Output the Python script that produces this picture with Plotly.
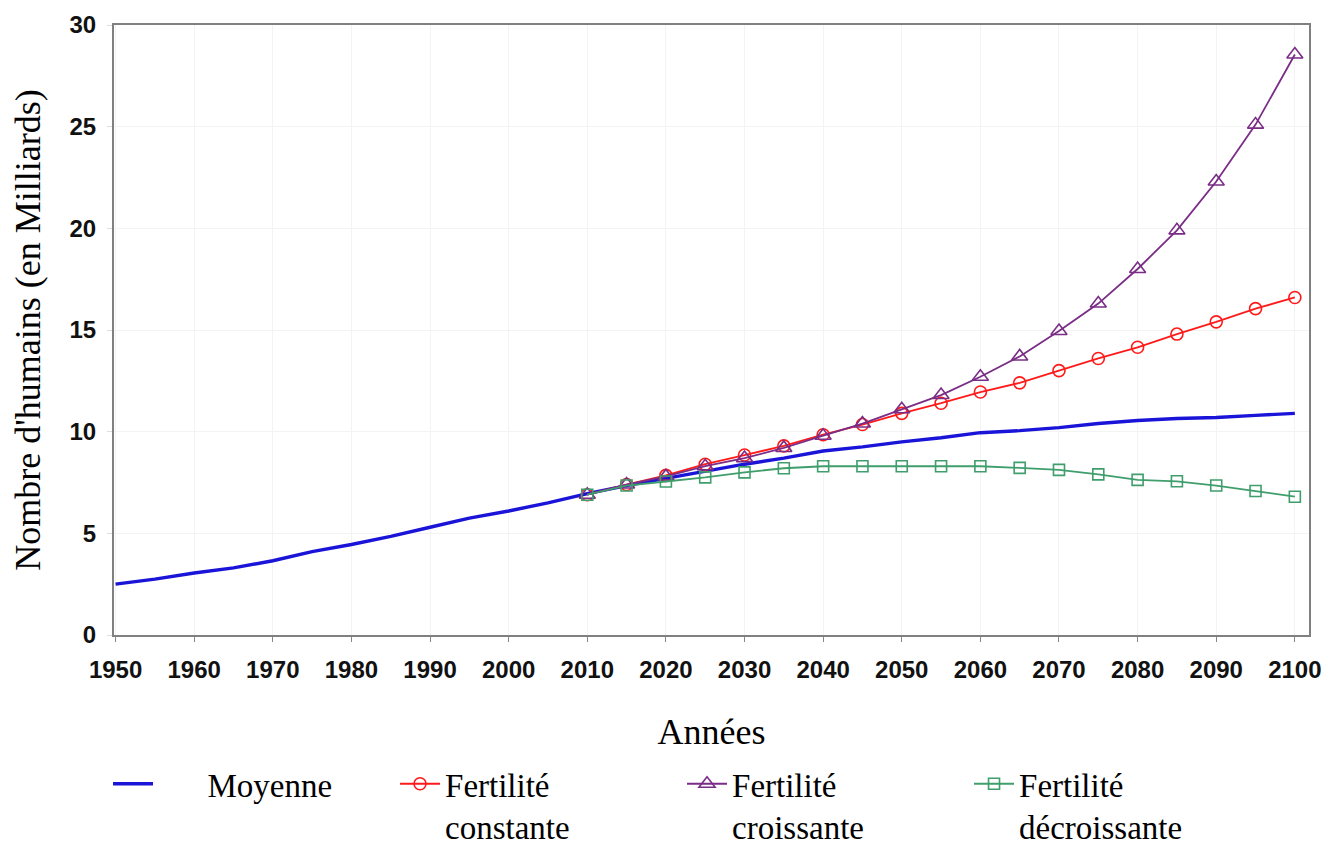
import plotly.graph_objects as go

# ---- data ----
years_hist = [1950, 1955, 1960, 1965, 1970, 1975, 1980, 1985, 1990, 1995, 2000, 2005,
              2010, 2015, 2020, 2025, 2030, 2035, 2040, 2045, 2050, 2055, 2060, 2065,
              2070, 2075, 2080, 2085, 2090, 2095, 2100]
moyenne = [2.5, 2.75, 3.05, 3.3, 3.65, 4.1, 4.45, 4.85, 5.3, 5.75, 6.1, 6.5,
           6.95, 7.35, 7.7, 8.05, 8.4, 8.7, 9.05, 9.25, 9.5, 9.7, 9.95, 10.05,
           10.2, 10.4, 10.55, 10.65, 10.7, 10.8, 10.9]

years_proj = [2010, 2015, 2020, 2025, 2030, 2035, 2040, 2045, 2050, 2055,
              2060, 2065, 2070, 2075, 2080, 2085, 2090, 2095, 2100]
constante = [6.9, 7.4, 7.85, 8.4, 8.85, 9.3, 9.85, 10.35, 10.9, 11.4,
             11.95, 12.4, 13.0, 13.6, 14.15, 14.8, 15.4, 16.05, 16.6]
croissante = [6.9, 7.4, 7.8, 8.3, 8.7, 9.2, 9.8, 10.4, 11.1, 11.8,
              12.7, 13.7, 14.95, 16.3, 18.0, 19.9, 22.3, 25.1, 28.55]
decroissante = [6.9, 7.35, 7.55, 7.75, 8.0, 8.2, 8.3, 8.3, 8.3, 8.3,
                8.3, 8.22, 8.12, 7.9, 7.63, 7.56, 7.35, 7.08, 6.8]

y_ticks = [0, 5, 10, 15, 20, 25, 30]
x_ticks = list(range(1950, 2101, 10))

serif = "Liberation Serif, Times New Roman, serif"
sans = "Liberation Sans, Arial, sans-serif"

fig = go.Figure()
fig.add_trace(go.Scatter(
    x=years_hist, y=moyenne, mode="lines",
    name="\u00a0\u00a0\u00a0\u00a0\u00a0\u00a0Moyenne",
    line=dict(color="#1a14d8", width=3.4)))
fig.add_trace(go.Scatter(
    x=years_proj, y=constante, mode="lines+markers",
    name="Fertilité<br>constante",
    line=dict(color="#ff1a1a", width=1.8),
    marker=dict(symbol="circle-open", size=12, color="#ff1a1a", line=dict(width=1.6))))
fig.add_trace(go.Scatter(
    x=years_proj, y=croissante, mode="lines+markers",
    name="Fertilité<br>croissante",
    line=dict(color="#7a2d86", width=1.8),
    marker=dict(symbol="triangle-up-open", size=14, color="#7a2d86", line=dict(width=1.6))))
fig.add_trace(go.Scatter(
    x=years_proj, y=decroissante, mode="lines+markers",
    name="Fertilité<br>décroissante",
    line=dict(color="#3f9e6c", width=1.8),
    marker=dict(symbol="square-open", size=11, color="#3f9e6c", line=dict(width=1.6))))

fig.update_layout(
    width=1330, height=844,
    margin=dict(l=106, r=29, t=17, b=217, autoexpand=False),
    paper_bgcolor="white", plot_bgcolor="white",
    showlegend=True,
    legend=dict(orientation="h", x=-0.005, xanchor="left", y=-0.198, yanchor="top",
                font=dict(family=serif, size=33, color="black"),
                entrywidth=232, entrywidthmode="pixels", valign="top",
                itemwidth=40, tracegroupgap=0),
    xaxis=dict(range=[1949.8, 2101.8], tickvals=x_ticks, automargin=False,
               tickfont=dict(family=sans, size=24, color="#111", weight="bold"),
               ticks="outside", ticklen=5, tickcolor="#888", ticklabelstandoff=7,
               showline=True, linecolor="#808080", linewidth=2, mirror=True,
               showgrid=True, gridcolor="#f3f3f3", zeroline=False,
               title=dict(text="Années", font=dict(family=serif, size=36, color="black"),
                          standoff=37)),
    yaxis=dict(range=[0, 30], tickvals=y_ticks, automargin=False,
               tickfont=dict(family=sans, size=24, color="#111", weight="bold"),
               ticks="outside", ticklen=5, tickcolor="#ddd", ticklabelstandoff=6,
               showline=True, linecolor="#808080", linewidth=2, mirror=True,
               showgrid=True, gridcolor="#f3f3f3", zeroline=False,
               title=dict(text="Nombre d'humains (en Milliards)",
                          font=dict(family=serif, size=36, color="black"), standoff=28)),
)

fig.write_html("out.html")
